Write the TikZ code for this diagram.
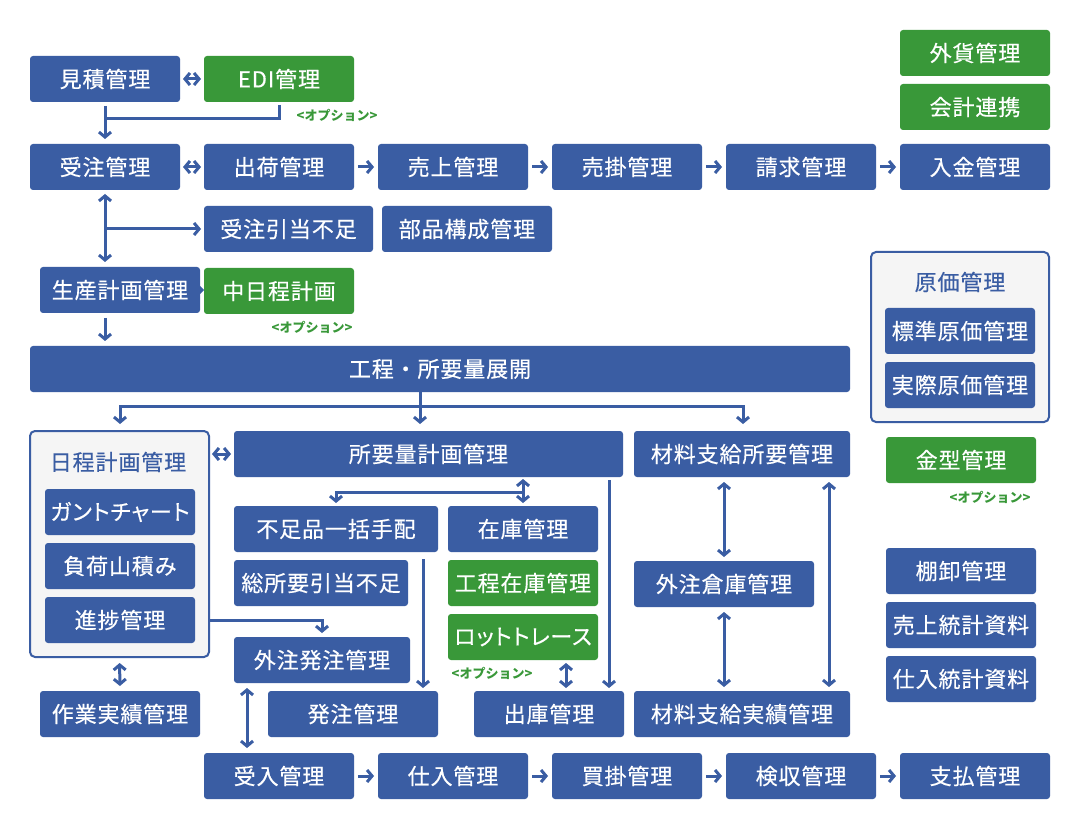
\documentclass[tikz,border=0pt]{standalone}
\usepackage{fontspec}
\setmainfont{Noto Sans CJK JP}
\newfontfamily\jpm{Noto Sans CJK JP}[FakeBold=0.4, LetterSpace=4]
\newfontfamily\jpk{Noto Sans CJK JP}[FakeBold=0.4, LetterSpace=4, RawFeature=+palt]
\usetikzlibrary{arrows.meta}
\definecolor{cblue}{RGB}{58,93,163}
\definecolor{cgreen}{RGB}{57,152,57}
\definecolor{cgray}{RGB}{245,245,245}
\begin{document}
\begin{tikzpicture}[x=1pt,y=-1pt,
 box/.style={draw=none, fill=cblue, rounded corners=3pt, text=white, inner sep=0pt, outer sep=0pt, minimum height=46pt, minimum width=150pt, font=\jpm\fontsize{22}{22}\selectfont},
 kana/.style={font=\jpk\fontsize{22}{22}\selectfont},
 gbox/.style={box, fill=cgreen},
 cont/.style={draw=cblue, line width=2pt, fill=cgray, rounded corners=5pt, inner sep=0pt, outer sep=0pt},
 ttl/.style={text=cblue, font=\jpm\fontsize{22}{22}\selectfont, inner sep=0pt},
 opt/.style={text=cgreen, font=\bfseries\fontsize{13}{13}\selectfont, inner sep=0pt},
 conn/.style={draw=cblue, line width=3pt},
 ar/.style={conn, -{Straight Barb[length=5pt,width=12pt]}},
 dar/.style={conn, {Straight Barb[length=5pt,width=12pt]}-{Straight Barb[length=5pt,width=12pt]}},
]
\fill[white] (0,0) rectangle (1080,829);
\useasboundingbox (0,0) rectangle (1080,829);

% containers
\node[cont, minimum width=178pt, minimum height=170pt] (genka) at (960,337) {};
\node[ttl] (genkat) at (960,282) {原価管理};
\node[cont, minimum width=179pt, minimum height=226pt] (nittei) at (119.5,544) {};
\node[ttl] (nitteit) at (118,462) {日程計画管理};

% row 1
\node[box] (mitsumori) at (105,79) {見積管理};
\node[gbox] (edi) at (279,79) {EDI管理};
\node[gbox] (gaika) at (975,53) {外貨管理};
\node[gbox] (kaikei) at (975,107) {会計連携};
\node[opt] (opt1) at (337,115) {<オプション>};

% row 2
\node[box] (juchu) at (105,167) {受注管理};
\node[box] (shukka) at (279,167) {出荷管理};
\node[box] (uriage) at (453,167) {売上管理};
\node[box] (urikake) at (627,167) {売掛管理};
\node[box] (seikyu) at (801,167) {請求管理};
\node[box] (nyukin) at (975,167) {入金管理};

% row 3
\node[box, minimum width=169pt] (hikiate) at (288.5,229) {受注引当不足};
\node[box, minimum width=170pt] (buhin) at (467,229) {部品構成管理};

% row 4
\node[box, minimum width=160pt] (seisan) at (120,290) {生産計画管理};
\node[gbox] (chunittei) at (279,291) {中日程計画};
\node[opt] (opt2) at (312,327) {<オプション>};
\node[box] (hyojun) at (960,331) {標準原価管理};
\node[box] (jissai) at (960,385) {実際原価管理};

% bar
\node[box, minimum width=820pt] (bar) at (440,369) {工程・所要量展開};

% row 5
\node[box, kana] (gantt) at (120,512) {ガントチャート};
\node[box] (fuka) at (120,566) {負荷山積み};
\node[box] (shincho) at (120,620) {進捗管理};
\node[box, minimum width=389pt] (shoyo) at (428.5,454) {所要量計画管理};
\node[box, minimum width=216pt] (zaishoyo) at (742,454) {材料支給所要管理};
\node[gbox] (kanagata) at (961,460) {金型管理};
\node[opt] (opt4) at (990,497) {<オプション>};

\node[box, minimum width=204pt] (fusoku) at (336,529) {不足品一括手配};
\node[box] (zaiko) at (523,529) {在庫管理};
\node[box, minimum width=174pt] (soshoyo) at (321,583) {総所要引当不足};
\node[gbox] (koteizaiko) at (523,583) {工程在庫管理};
\node[gbox, kana] (lot) at (523,637) {ロットトレース};
\node[opt] (opt3) at (492,673) {<オプション>};
\node[box, minimum width=180pt] (gaisoko) at (724,584) {外注倉庫管理};
\node[box] (tanaoroshi) at (961,571) {棚卸管理};
\node[box] (uritokei) at (961,625) {売上統計資料};
\node[box] (shiretokei) at (961,679) {仕入統計資料};

\node[box, minimum width=176pt] (gaichu) at (322,660) {外注発注管理};
\node[box, minimum width=160pt] (sagyo) at (120,714) {作業実績管理};
\node[box, minimum width=170pt] (hatchu) at (353,714) {発注管理};
\node[box] (shukko) at (549,714) {出庫管理};
\node[box, minimum width=216pt] (zaijisseki) at (742,714) {材料支給実績管理};

% bottom row
\node[box] (ukeire) at (279,776) {受入管理};
\node[box] (shiire) at (453,776) {仕入管理};
\node[box] (kaikake) at (627,776) {買掛管理};
\node[box] (kenshu) at (801,776) {検収管理};
\node[box] (shiharai) at (975,776) {支払管理};

% helper coordinates
\coordinate (j1) at (105,119);
\coordinate (dL) at (120,406);
\coordinate (dR) at (743,406);
\coordinate (c420) at (420,0);
\coordinate (h1) at (523,492);
\coordinate (c609) at (609,0);
\coordinate (c423) at (423,0);
\coordinate (c566) at (566,0);
\coordinate (c247) at (247,0);
\coordinate (c829) at (829,0);

% connectors
\draw[dar, shorten <=3pt, shorten >=3pt] (mitsumori.east) -- (edi.west);
\draw[ar, shorten <=4pt, shorten >=5pt] (mitsumori.south) -- (juchu.north);
\draw[conn, shorten <=3pt] (edi.south) |- (j1);

\draw[dar, shorten <=3pt, shorten >=3pt] (juchu.east) -- (shukka.west);
\draw[ar, shorten <=4pt, shorten >=4pt] (shukka.east) -- (uriage.west);
\draw[ar, shorten <=4pt, shorten >=4pt] (uriage.east) -- (urikake.west);
\draw[ar, shorten <=4pt, shorten >=4pt] (urikake.east) -- (seikyu.west);
\draw[ar, shorten <=4pt, shorten >=4pt] (seikyu.east) -- (nyukin.west);

\draw[dar, shorten <=4pt, shorten >=5pt] (juchu.south) -- (juchu.south |- seisan.north);
\draw[ar, shorten >=3pt] (juchu.south |- hikiate.west) -- (hikiate.west);
\fill[cblue] (seisan.east) ++(0,-4) -- ++(4,4) -- ++(-4,4) -- cycle;
\draw[ar, shorten <=5pt, shorten >=5pt] (juchu.south |- seisan.south) -- (juchu.south |- bar.north);

\draw[ar, shorten >=7pt] (c420 |- bar.south) -- (c420 |- shoyo.north);
\draw[dar, line join=miter, shorten <=7pt, shorten >=7pt] (dL |- nittei.north) -- (dL) -- (dR) -- (dR |- zaishoyo.north);

\draw[dar, shorten <=3pt, shorten >=3pt] (nittei.east |- shoyo.west) -- (shoyo.west);
\draw[dar, shorten <=2pt, shorten >=3pt] (zaiko.north |- shoyo.south) -- (zaiko.north);
\draw[ar, line join=miter, shorten >=3pt] (h1) -| (fusoku.north);
\draw[ar, shorten <=3pt, shorten >=3pt] (c609 |- shoyo.south) -- (c609 |- shukko.north);
\draw[ar, shorten <=7pt, shorten >=3pt] (c423 |- fusoku.south) -- (c423 |- hatchu.north);
\draw[dar, shorten <=3pt, shorten >=3pt] (c566 |- lot.south) -- (c566 |- shukko.north);
\draw[ar, line join=miter, shorten >=4pt] (nittei.east |- shincho.east) -| (gaichu.north);
\draw[dar, shorten <=6pt, shorten >=5pt] (nittei.south) -- (sagyo.north);
\draw[dar, shorten <=5pt, shorten >=5pt] (c247 |- gaichu.south) -- (c247 |- ukeire.north);

\draw[dar, shorten <=5pt, shorten >=4pt] (gaisoko.north |- zaishoyo.south) -- (gaisoko.north);
\draw[dar, shorten <=5pt, shorten >=4pt] (gaisoko.south) -- (gaisoko.south |- zaijisseki.north);
\draw[dar, shorten <=5pt, shorten >=4pt] (c829 |- zaishoyo.south) -- (c829 |- zaijisseki.north);

\draw[ar, shorten <=4pt, shorten >=4pt] (ukeire.east) -- (shiire.west);
\draw[ar, shorten <=4pt, shorten >=4pt] (shiire.east) -- (kaikake.west);
\draw[ar, shorten <=4pt, shorten >=4pt] (kaikake.east) -- (kenshu.west);
\draw[ar, shorten <=4pt, shorten >=4pt] (kenshu.east) -- (shiharai.west);
\end{tikzpicture}
\end{document}
